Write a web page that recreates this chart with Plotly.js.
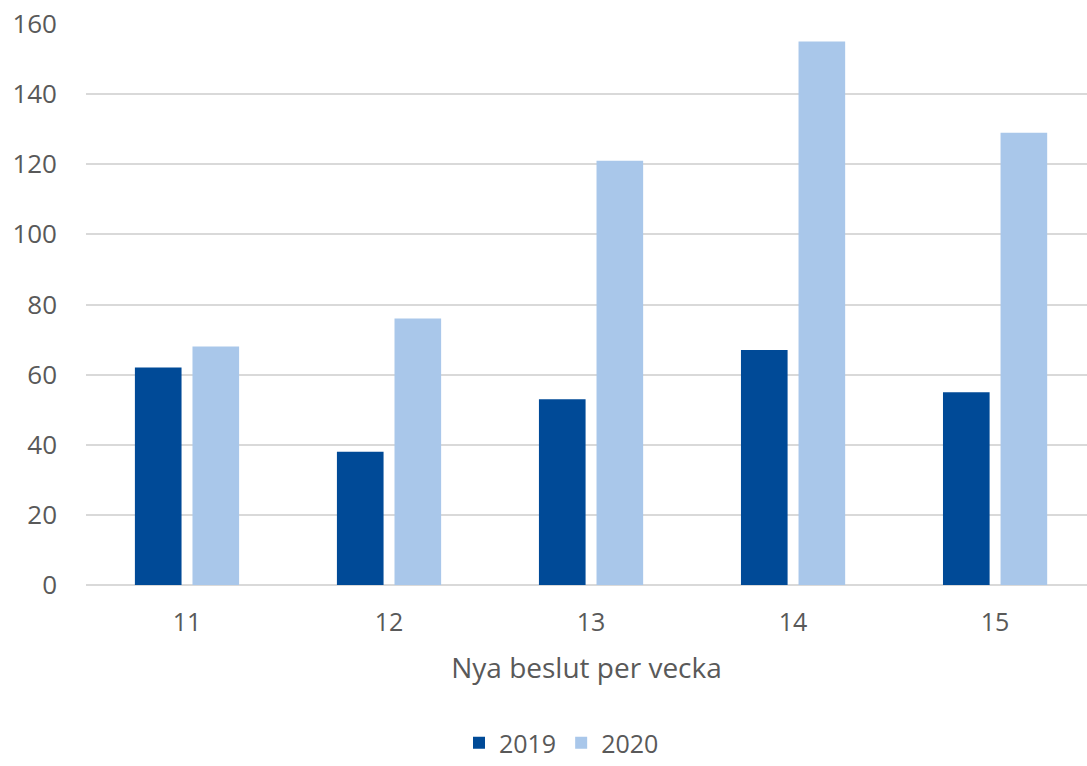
<!DOCTYPE html>
<html>
<head>
<meta charset="utf-8">
<script src="https://cdn.plot.ly/plotly-3.0.1.min.js"></script>
<style>html,body{margin:0;padding:0;background:#fff;}#chart{width:1087px;height:766px;}</style>
</head>
<body>
<div id="chart"></div>
<script>
const weeks = ['11', '12', '13', '14', '15'];
const values2019 = [62, 38, 53, 67, 55];
const values2020 = [68, 76, 121, 155, 129];
const yTicks = [0, 20, 40, 60, 80, 100, 120, 140, 160];

const font = '"Open Sans", "Noto Sans", "Liberation Sans", sans-serif';
const data = [
  {type: 'bar', name: '2019', x: weeks, y: values2019, marker: {color: '#004A97'}, hoverinfo: 'x+y'},
  {type: 'bar', name: '2020', x: weeks, y: values2020, marker: {color: '#A9C7EA'}, hoverinfo: 'x+y'}
];
const layout = {
  width: 1087, height: 766,
  margin: {l: 86, r: 0, t: 24, b: 181, autoexpand: false},
  paper_bgcolor: '#fff', plot_bgcolor: '#fff',
  barmode: 'group', bargap: 0.43, bargroupgap: 0.19,
  font: {family: font, color: '#595959', size: 25},
  xaxis: {
    type: 'category', range: [-0.5, 4.455],
    showgrid: false, zeroline: false, showline: false, ticks: '',
    ticklabelstandoff: 20,
    tickfont: {size: 25, color: '#595959'},
    title: {text: 'Nya beslut per vecka', font: {size: 28, color: '#595959'}, standoff: 21}
  },
  yaxis: {
    range: [0, 160], tickvals: yTicks, ticktext: yTicks.map(String),
    showgrid: true, gridcolor: '#D9D9D9', gridwidth: 2,
    zeroline: true, zerolinecolor: '#D9D9D9', zerolinewidth: 2,
    showline: false, ticks: '', ticklabelstandoff: 28,
    tickfont: {size: 26, color: '#595959'}
  },
  showlegend: true,
  legend: {orientation: 'h', x: 0.475, xanchor: 'center', yref: 'container', y: 0, yanchor: 'bottom',
    font: {size: 25, color: '#595959'}, itemwidth: 30, traceorder: 'normal'}
};
Plotly.newPlot('chart', data, layout, {displayModeBar: false, staticPlot: true});
</script>
</body>
</html>
